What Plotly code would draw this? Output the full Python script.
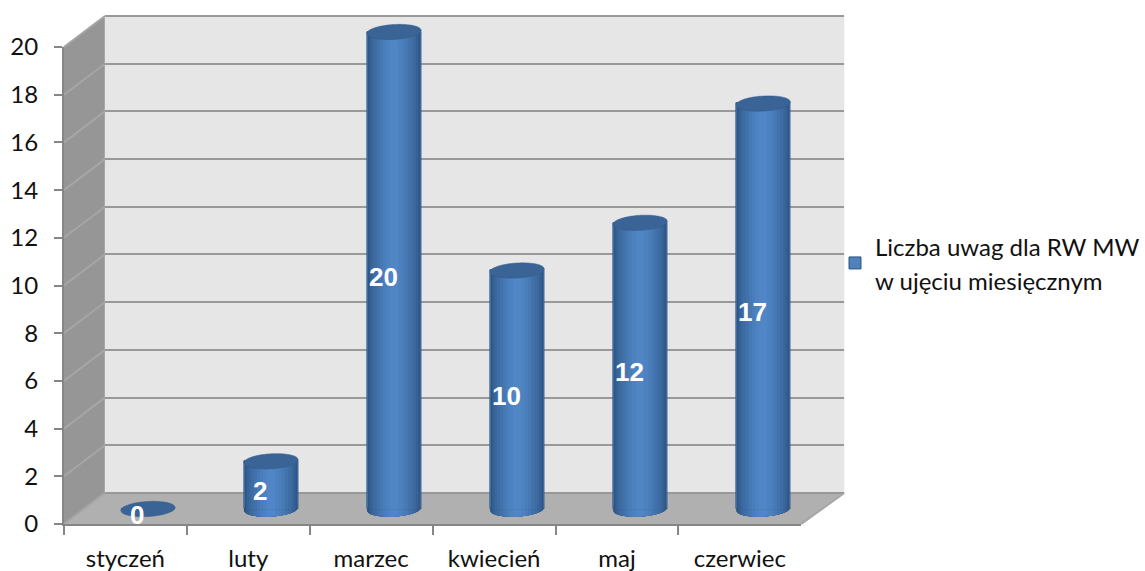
import plotly.graph_objects as go

categories = ["styczeń", "luty", "marzec", "kwiecień", "maj", "czerwiec"]
values = [0, 2, 20, 10, 12, 17]
y_ticks = list(range(0, 21, 2))
series_name = "Liczba uwag dla RW MW<br>w ujęciu miesięcznym"

W, H = 1145, 571
FRONT = dict(x0=64, x1=802, y0=524, y1=47)
BACK = dict(x0=105, x1=845, y0=493, y1=16)
BAR_X0, BAR_X1 = 86.5, 825.5
BAR_Y0, BAR_UNIT = 509, 23.85
BAND = (BAR_X1 - BAR_X0) / 6

GRID = "#999999"
AXIS = "#868686"
TEXT = "#111111"
FONT = "Lato"
TICK_SIZE = 24

# half-width in px, colour of the nested cylinder layers (outer to inner)
LAYERS = [
    (27, "#2A4F78"), (26, "#2F5683"), (25, "#335C8D"), (24, "#366196"),
    (22, "#3A679C"), (20, "#3E6CA3"), (17, "#4272AB"), (14, "#4678B3"),
    (11, "#4A7EBB"), (8, "#4D82C1"), (4, "#5085C6"),
]
TOP_COLOR = "#3A6496"
SLOPE = 0.055
B = 7.5
A = 27.3


def px(x):
    return x / W


def py(y):
    return 1 - y / H


def poly(points, fill, line=None, lw=0):
    d = "M" + "L".join(f"{px(x):.5f},{py(y):.5f}" for x, y in points) + "Z"
    return dict(type="path", path=d, xref="paper", yref="paper", layer="below",
                fillcolor=fill, line=dict(color=line or fill, width=lw))


def ell_y(x):
    return -B * max(0.0, 1 - (x / A) ** 2) ** 0.5 + x * SLOPE


def top_path():
    pts = []
    n = 40
    for i in range(n + 1):
        x = -A + 2 * A * i / n
        pts.append((x, ell_y(x)))
    for i in range(n + 1):
        x = A - 2 * A * i / n
        pts.append((x, 2 * x * SLOPE - ell_y(x)))
    return "M" + "L".join(f"{x:.2f},{y:.2f}" for x, y in pts) + "Z"


def base_path(w):
    pts = [(-w, 1)]
    n = 24
    for i in range(n + 1):
        x = -w + 2 * w * i / n
        pts.append((x, ell_y(x)))
    pts.append((w, 1))
    return "M" + "L".join(f"{x:.2f},{y:.2f}" for x, y in pts) + "Z"


shapes = []
# walls and floor
shapes.append(poly([(FRONT["x0"], FRONT["y1"]), (BACK["x0"], BACK["y1"]), (BACK["x0"], BACK["y0"]), (FRONT["x0"], FRONT["y0"])], "#969696"))
shapes.append(poly([(BACK["x0"], BACK["y1"]), (BACK["x1"], BACK["y1"]), (BACK["x1"], BACK["y0"]), (BACK["x0"], BACK["y0"])], "#E6E6E6"))
shapes.append(poly([(FRONT["x0"], FRONT["y0"]), (BACK["x0"], BACK["y0"]), (BACK["x1"], BACK["y0"]), (FRONT["x1"], FRONT["y0"])], "#B0B0B0"))
# grid lines running along the side wall and floor edge
unit = (FRONT["y0"] - FRONT["y1"]) / 20
for t in y_ticks:
    shapes.append(dict(type="line", xref="paper", yref="paper", layer="below",
                       x0=px(FRONT["x0"]), y0=py(FRONT["y0"] - t * unit),
                       x1=px(BACK["x0"]), y1=py(BACK["y0"] - t * unit),
                       line=dict(color="#A6A6A6", width=2)))
shapes.append(dict(type="line", xref="paper", yref="paper", layer="below",
                   x0=px(FRONT["x1"]), y0=py(FRONT["y0"]), x1=px(BACK["x1"]), y1=py(BACK["y0"]),
                   line=dict(color="#A6A6A6", width=2)))

# cylinder bases (below the bar bodies)
for cat, v in zip(categories, values):
    if v <= 0:
        continue
    for w, c in LAYERS:
        shapes.append(dict(type="path", xref="x3", yref="y3", layer="below",
                           xsizemode="pixel", ysizemode="pixel", xanchor=cat, yanchor=0,
                           path=base_path(w), fillcolor=c, line=dict(width=0)))
# cylinder tops
for cat, v in zip(categories, values):
    shapes.append(dict(type="path", xref="x3", yref="y3", layer="above",
                       xsizemode="pixel", ysizemode="pixel", xanchor=cat, yanchor=v,
                       path=top_path(), fillcolor=TOP_COLOR, line=dict(color="#31598A", width=0.5)))

fig = go.Figure()

# keeps the front axes and back wall subplots alive
fig.add_trace(go.Scatter(x=categories, y=values, mode="none", xaxis="x", yaxis="y",
                         showlegend=False, hoverinfo="skip"))
fig.add_trace(go.Scatter(x=categories, y=values, mode="none", xaxis="x2", yaxis="y2",
                         showlegend=False, hoverinfo="skip"))

span = '<span style="font-size:24px">'
legend_name = span + series_name.replace("<br>", "</span><br>" + span) + "</span>"

for i, (w, c) in enumerate(LAYERS):
    first = i == 0
    fig.add_trace(go.Bar(
        x=categories, y=values, xaxis="x3", yaxis="y3",
        width=2 * w / BAND,
        name=legend_name,
        showlegend=first,
        marker=dict(color="#4F81BD" if first else c,
                    line=dict(color="#2C5480", width=1 if first else 0)),
    ))

annotations = [
    dict(x=cat, y=v / 2, xref="x3", yref="y3", text=str(v), showarrow=False, yshift=-6, xshift=-11,
         font=dict(family="Liberation Sans", size=26, color="white", weight="bold"))
    for cat, v in zip(categories, values)
]

pad = 1.0
fig.update_layout(
    width=W, height=H, autosize=False,
    margin=dict(l=0, r=0, t=0, b=0, pad=0),
    paper_bgcolor="white", plot_bgcolor="rgba(0,0,0,0)",
    barmode="overlay", bargap=0,
    shapes=shapes, annotations=annotations,
    showlegend=True,
    legend=dict(x=px(836), y=py(222), xanchor="left", yanchor="top",
                font=dict(family=FONT, size=26.5, color=TEXT), bgcolor="rgba(0,0,0,0)"),
    font=dict(family=FONT, color=TEXT),
    xaxis=dict(domain=[px(FRONT["x0"]), px(FRONT["x1"])], anchor="y", automargin=False,
               type="category", categoryorder="array", categoryarray=categories,
               range=[-0.5, 5.5], tickson="boundaries", ticks="outside", ticklen=9, tickwidth=2,
               tickcolor=AXIS, showline=True, linecolor=AXIS, linewidth=2, showgrid=False,
               zeroline=False, ticklabelstandoff=12,
               tickfont=dict(family=FONT, size=TICK_SIZE, color=TEXT)),
    yaxis=dict(domain=[py(FRONT["y0"]), py(FRONT["y1"])], anchor="x", automargin=False,
               range=[0, 20], tickvals=y_ticks, ticks="outside", ticklen=8, tickwidth=2,
               tickcolor=AXIS, showline=True, linecolor=AXIS, linewidth=2, showgrid=False,
               zeroline=False, ticklabelstandoff=11,
               tickfont=dict(family=FONT, size=TICK_SIZE, color=TEXT)),
    xaxis2=dict(domain=[px(BACK["x0"]), px(BACK["x1"])], anchor="y2", visible=False, automargin=False,
                type="category", categoryarray=categories, range=[-0.5, 5.5]),
    yaxis2=dict(domain=[py(BACK["y0"]) - 0.004, py(BACK["y1"]) + 0.004], anchor="x2", automargin=False,
                range=[-0.1, 20.1], tickvals=y_ticks, showgrid=True, gridcolor=GRID, gridwidth=2,
                showticklabels=False, ticks="", zeroline=False, showline=False),
    xaxis3=dict(domain=[px(BAR_X0), px(BAR_X1)], anchor="y3", visible=False, automargin=False,
                type="category", categoryorder="array", categoryarray=categories, range=[-0.5, 5.5]),
    yaxis3=dict(domain=[py(BAR_Y0 + pad * BAR_UNIT), py(BAR_Y0 - 21 * BAR_UNIT)], anchor="x3", visible=False, automargin=False,
                range=[-pad, 21]),
)

fig.write_html("out.html", config={"displayModeBar": False},
               post_script="document.body.style.margin='0';")
